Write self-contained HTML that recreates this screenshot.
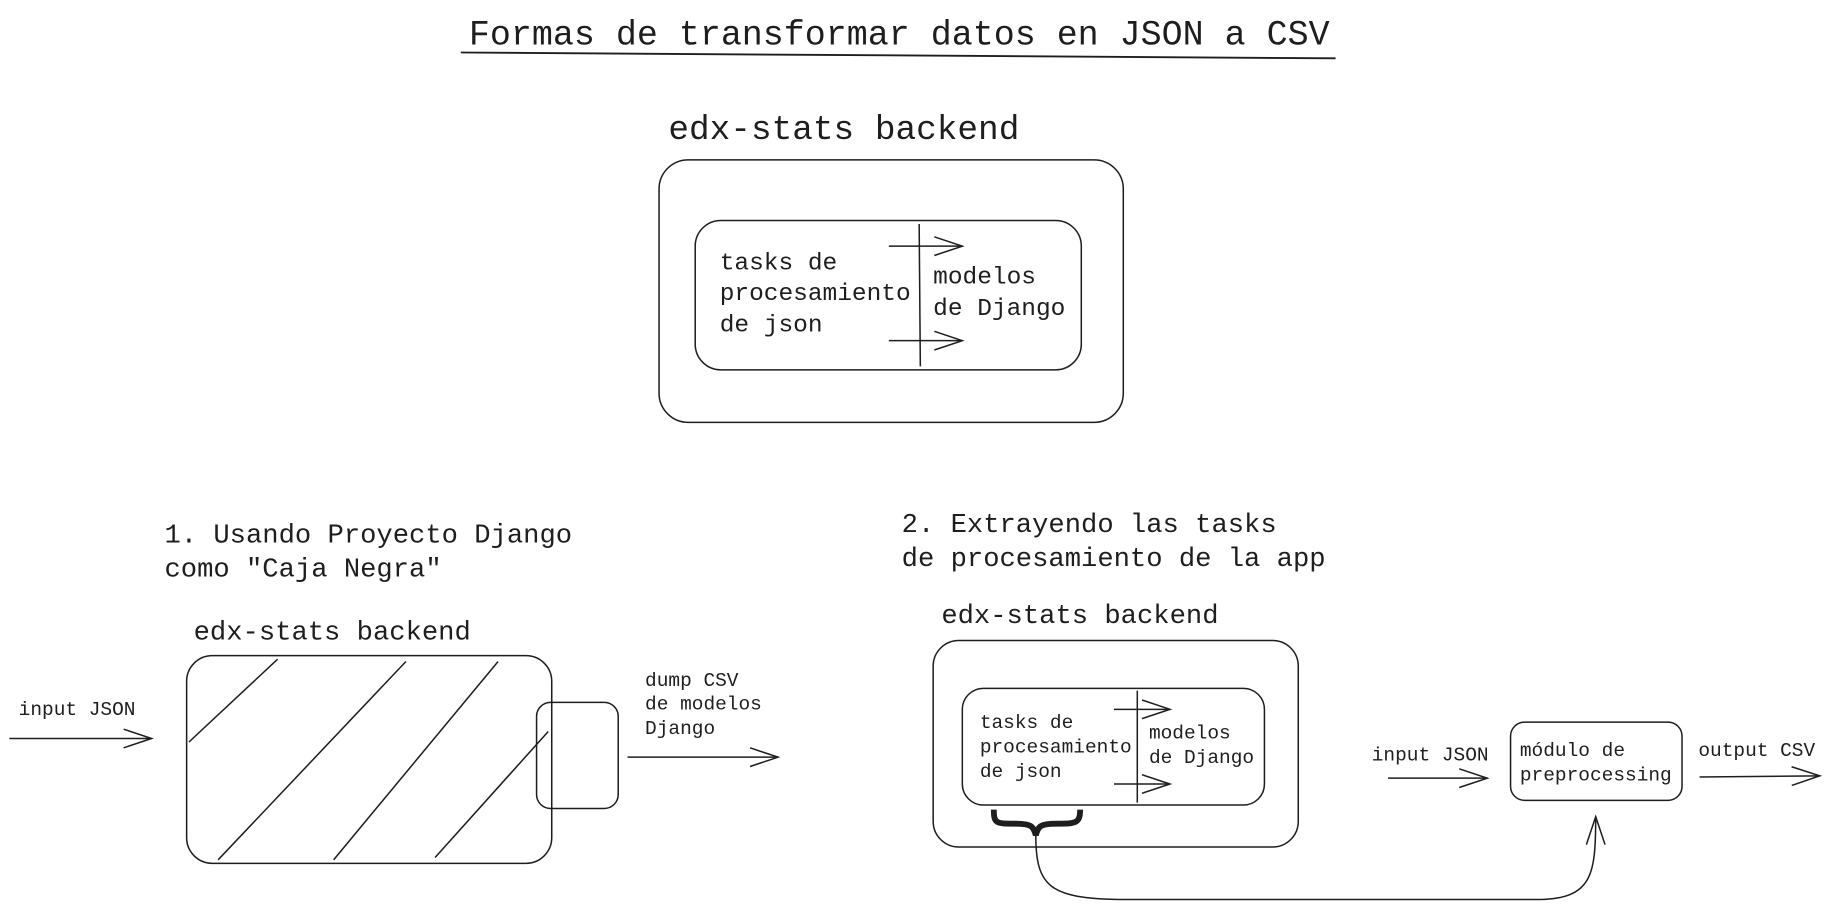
<!DOCTYPE html>
<html><head><meta charset="utf-8"><style>
html,body{margin:0;padding:0;background:#fff;}
svg{display:block}
text{font-family:"Liberation Mono",monospace;fill:#1e1e1e}
</style></head><body>
<svg width="1829" height="910" viewBox="0 0 1568 780" preserveAspectRatio="none" xmlns="http://www.w3.org/2000/svg">
<defs>
<marker id="a" markerWidth="30" markerHeight="20" refX="28" refY="10" orient="auto" markerUnits="userSpaceOnUse">
<path d="M4,2 L28,10 L4,18" fill="none" stroke="#1e1e1e" stroke-width="1.3"/>
</marker>
</defs>
<g fill="none" stroke="#1e1e1e" stroke-width="1.3">
<!-- title underline -->
<path d="M395,45 L1145,50" stroke-width="1.6"/>
<!-- top -->
<rect x="565" y="137" width="398" height="225" rx="25"/>
<rect x="596" y="189" width="331" height="128" rx="22"/>
<path d="M788,192 L789,314"/>
<path d="M762,211 L825,211" marker-end="url(#a)"/>
<path d="M762,292 L825,292" marker-end="url(#a)"/>
<!-- section 1 -->
<rect x="160" y="562" width="313" height="178" rx="22"/>
<path d="M162,636 L238,565 M187,737 L348,567 M286,737 L427,567 M373,735 L470,627"/>
<rect x="460" y="602" width="70" height="91" rx="12"/>
<path d="M8,633 L130,633" marker-end="url(#a)"/>
<path d="M538,649 L667,649" marker-end="url(#a)"/>
<!-- section 2 -->
<rect x="800" y="549" width="313" height="177" rx="22"/>
<rect x="825" y="590" width="259" height="100" rx="18"/>
<path d="M975,592 L975,688"/>
<path d="M955,608 L1003,608" marker-end="url(#a)"/>
<path d="M955,672 L1003,672" marker-end="url(#a)"/>
<path d="M852,694 C852,706 854,706 870,706 C884,706 886,708 888,716 C890,708 892,706 906,706 C922,706 926,706 926,694" stroke-width="5"/>
<path d="M888,716 C888,760 900,770 960,771 L1320,771 C1365,770 1368,750 1368,700" marker-end="url(#a)"/>
<path d="M1190,667 L1275,667" marker-end="url(#a)"/>
<rect x="1295" y="619" width="147" height="67" rx="12"/>
<path d="M1457,666 L1560,665" marker-end="url(#a)"/>
</g>
<text x="402" y="38" font-size="30">Formas de transformar datos en JSON a CSV</text>
<text x="573" y="119" font-size="29.5">edx-stats backend</text>
<text font-size="21"><tspan x="617" y="231">tasks de</tspan><tspan x="617" y="257">procesamiento</tspan><tspan x="617" y="284">de json</tspan></text>
<text font-size="21"><tspan x="800" y="243">modelos</tspan><tspan x="800" y="270">de Django</tspan></text>
<text font-size="23.3"><tspan x="141" y="465">1. Usando Proyecto Django</tspan><tspan x="141" y="494">como "Caja Negra"</tspan></text>
<text font-size="23.3"><tspan x="773" y="456">2. Extrayendo las tasks</tspan><tspan x="773" y="485">de procesamiento de la app</tspan></text>
<text x="166" y="548" font-size="23.3">edx-stats backend</text>
<text x="807" y="534" font-size="23.3">edx-stats backend</text>
<text x="16" y="613" font-size="16.7">input JSON</text>
<text font-size="16.7"><tspan x="553" y="588">dump CSV</tspan><tspan x="553" y="608">de modelos</tspan><tspan x="553" y="629">Django</tspan></text>
<text font-size="16.7"><tspan x="840" y="624">tasks de</tspan><tspan x="840" y="645">procesamiento</tspan><tspan x="840" y="666">de json</tspan></text>
<text font-size="16.7"><tspan x="985" y="633">modelos</tspan><tspan x="985" y="654">de Django</tspan></text>
<text x="1176" y="652" font-size="16.7">input JSON</text>
<text font-size="16.7"><tspan x="1303" y="648">módulo de</tspan><tspan x="1303" y="669">preprocessing</tspan></text>
<text x="1456" y="648" font-size="16.7">output CSV</text>
</svg>
</body></html>
